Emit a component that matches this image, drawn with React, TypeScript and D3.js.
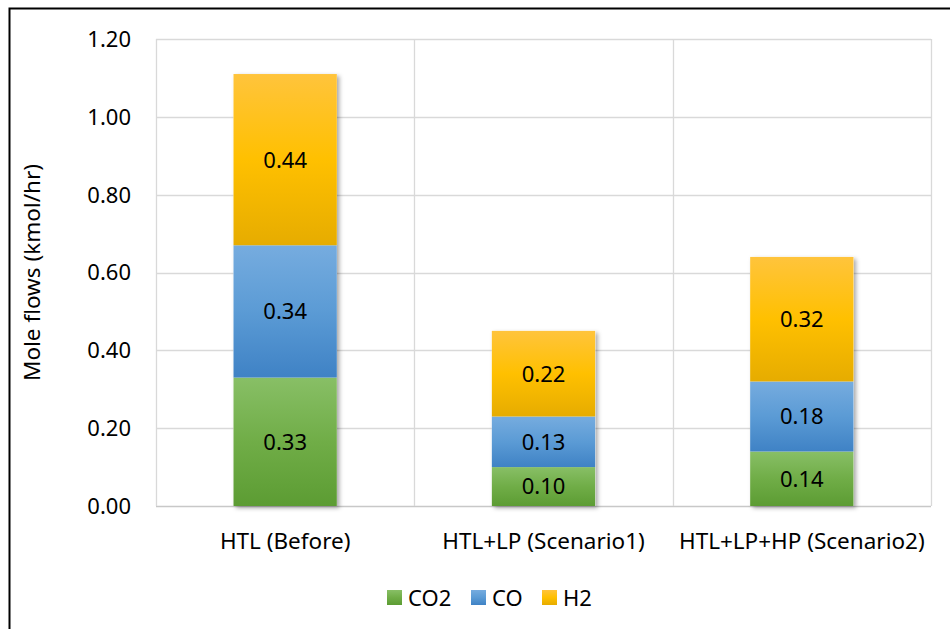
import React from "react";
import * as d3 from "d3";

const categories = ["HTL (Before)", "HTL+LP (Scenario1)", "HTL+LP+HP (Scenario2)"];
const seriesNames = ["CO2", "CO", "H2"];
const co2 = [0.33, 0.10, 0.14];
const coVals = [0.34, 0.13, 0.18];
const h2 = [0.44, 0.22, 0.32];
const yTicks = [0, 0.2, 0.4, 0.6, 0.8, 1.0, 1.2];

const gradients = [
  { id: "g-co2", top: "#88bf66", mid: "#70ad47", bot: "#5c9c33" },
  { id: "g-co", top: "#76acdf", mid: "#5b9bd5", bot: "#3f82c5" },
  { id: "g-h2", top: "#ffc43c", mid: "#ffc000", bot: "#e6ac00" },
];

const W = 950;
const H = 629;
const FONT = "'Noto Sans', 'Open Sans', sans-serif";

export default function App() {
  const plotLeft = 156;
  const plotRight = 931;
  const y = d3.scaleLinear().domain([0, 1.2]).range([506, 39]);
  const x = d3
    .scaleBand<string>()
    .domain(categories)
    .range([plotLeft, plotRight])
    .paddingInner(0.6)
    .paddingOuter(0.3);
  const step = x.step();

  const rows = categories.map((c, i) => ({ cat: c, CO2: co2[i], CO: coVals[i], H2: h2[i] }));
  const stack = d3.stack<any>().keys(seriesNames)(rows);

  return (
    <svg
      width={W}
      height={H}
      style={{ position: "absolute", left: 0, top: 0, display: "block", background: "#fff" }}
      fontFamily={FONT}
    >
      <defs>
        {gradients.map((g) => (
          <linearGradient key={g.id} id={g.id} x1="0" y1="0" x2="0" y2="1">
            <stop offset="0" stopColor={g.top} />
            <stop offset="0.5" stopColor={g.mid} />
            <stop offset="1" stopColor={g.bot} />
          </linearGradient>
        ))}
        <filter id="barShadow" x="-20%" y="-10%" width="140%" height="120%">
          <feDropShadow dx="2.5" dy="2" stdDeviation="2" floodColor="#000" floodOpacity="0.35" />
        </filter>
      </defs>

      {/* outer frame */}
      <path d={`M9.5,${H + 2} V8.5 H${W + 2}`} fill="none" stroke="#000" strokeWidth={2} />

      {/* horizontal gridlines */}
      {yTicks.map((t) => (
        <line
          key={t}
          x1={plotLeft}
          x2={plotRight}
          y1={Math.round(y(t)) + 0.5}
          y2={Math.round(y(t)) + 0.5}
          stroke={t === 0 ? "#c8c8c8" : "#d9d9d9"}
          strokeWidth={1.3}
        />
      ))}
      {/* vertical category dividers */}
      {d3.range(categories.length + 1).map((i) => {
        const xx = Math.round(plotLeft + i * step) + 0.5;
        return (
          <line key={i} x1={xx} x2={xx} y1={y(1.2)} y2={y(0)} stroke="#d9d9d9" strokeWidth={1.3} />
        );
      })}

      {/* y tick labels */}
      {yTicks.map((t) => (
        <text
          key={t}
          x={131}
          y={y(t)}
          dy="0.36em"
          textAnchor="end"
          fontSize={22}
          fill="#000"
        >
          {d3.format(".2f")(t)}
        </text>
      ))}

      {/* y axis title */}
      <text
        transform={`translate(40,${(y(0) + y(1.2)) / 2}) rotate(-90)`}
        textAnchor="middle"
        fontSize={22.5}
        fill="#000"
      >
        Mole flows (kmol/hr)
      </text>

      {/* bars with shadow */}
      <g filter="url(#barShadow)">
        {categories.map((c, i) => {
          const top = stack[stack.length - 1][i][1];
          return (
            <rect
              key={c}
              x={x(c)}
              y={y(top)}
              width={x.bandwidth()}
              height={y(0) - y(top)}
              fill="#fff"
            />
          );
        })}
      </g>
      {stack.map((s, si) =>
        s.map((d, i) => (
          <rect
            key={`${si}-${i}`}
            x={x(categories[i])}
            y={y(d[1])}
            width={x.bandwidth()}
            height={y(d[0]) - y(d[1])}
            fill={`url(#${gradients[si].id})`}
          />
        ))
      )}

      {/* data labels */}
      {stack.map((s, si) =>
        s.map((d, i) => (
          <text
            key={`l-${si}-${i}`}
            x={(x(categories[i]) as number) + x.bandwidth() / 2}
            y={y((d[0] + d[1]) / 2)}
            dy="0.36em"
            textAnchor="middle"
            fontSize={22}
            fill="#000"
          >
            {d3.format(".2f")(d[1] - d[0])}
          </text>
        ))
      )}

      {/* category labels */}
      {categories.map((c) => (
        <text
          key={c}
          x={(x(c) as number) + x.bandwidth() / 2}
          y={549}
          textAnchor="middle"
          fontSize={22.5}
          fill="#000"
        >
          {c}
        </text>
      ))}

      {/* legend */}
      {seriesNames.map((n, i) => {
        const lx = [387, 471, 542][i];
        return (
          <g key={n}>
            <rect x={lx} y={590} width={15} height={15} fill={`url(#${gradients[i].id})`} />
            <text x={lx + 21} y={606} fontSize={22} fill="#000">
              {n}
            </text>
          </g>
        );
      })}
    </svg>
  );
}
